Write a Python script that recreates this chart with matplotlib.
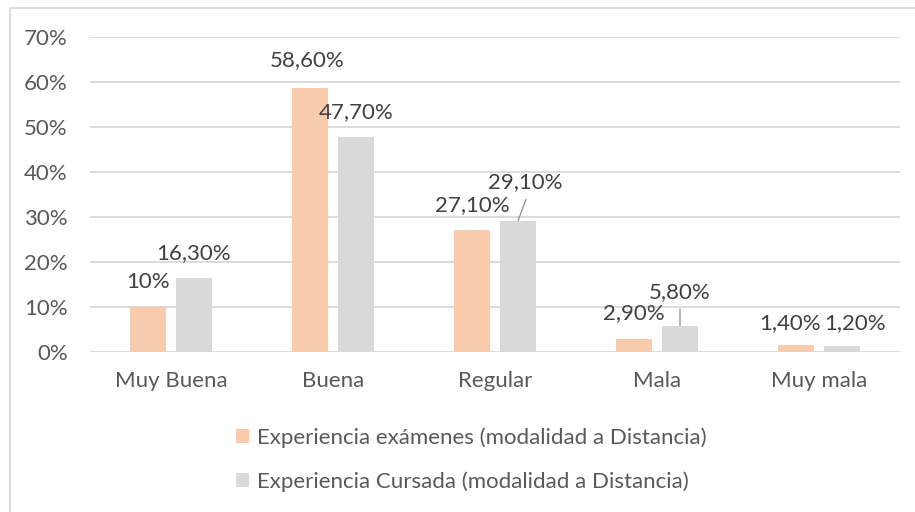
import matplotlib
matplotlib.use("Agg")
import matplotlib.pyplot as plt
from matplotlib.patches import Patch
from matplotlib.lines import Line2D
import numpy as np

plt.rcParams['font.family'] = ['Lato', 'DejaVu Sans']

categories = ["Muy Buena", "Buena", "Regular", "Mala", "Muy mala"]
examenes = [10.0, 58.6, 27.1, 2.9, 1.4]
cursada = [16.3, 47.7, 29.1, 5.8, 1.2]
label_examenes = ["10%", "58,60%", "27,10%", "2,90%", "1,40%"]
label_cursada = ["16,30%", "47,70%", "29,10%", "5,80%", "1,20%"]
series_names = ["Experiencia exámenes (modalidad a Distancia)",
                "Experiencia Cursada (modalidad a Distancia)"]
yticks = [0, 10, 20, 30, 40, 50, 60, 70]

C_EX = "#F8CBAD"
C_CU = "#D9D9D9"
GRID = "#D9D9D9"
TXT = "#595959"
LBL = "#404040"
FS = 16

W, H = 915, 512
fig = plt.figure(figsize=(W / 100, H / 100), dpi=100)
ax = fig.add_axes([90 / W, (H - 351.7) / H, 810 / W, 315 / H])

x = np.arange(len(categories))
off, bw = 0.142, 0.22
ax.bar(x - off, examenes, bw, color=C_EX, zorder=2)
ax.bar(x + off, cursada, bw, color=C_CU, zorder=2)

ax.set_xlim(-0.5, len(categories) - 0.5)
ax.set_ylim(0, 70)
ax.set_yticks(yticks)
ax.set_yticklabels([f"{t}%" for t in yticks])
ax.set_xticks(x)
ax.set_xticklabels(categories)
ax.grid(axis='y', color=GRID, lw=1.3, zorder=0)
ax.set_axisbelow(True)
for s in ax.spines.values():
    s.set_visible(False)
ax.tick_params(axis='both', length=0, labelsize=FS, labelcolor=TXT)
ax.tick_params(axis='y', pad=16)
ax.tick_params(axis='x', pad=14)

px = 72 / 100  # points per pixel
# label offsets in pixels (dx, dy up) relative to bar top centre
off_ex = [(0, 25), (-3, 28), (0, 25), (0, 25.7), (-5.5, 22.7)]
off_cu = [(0, 25), (0, 25), (7, 38.4), (0, 34), (13, 23.4)]
for i in range(len(categories)):
    for xs, vals, labs, offs in ((x - off, examenes, label_examenes, off_ex),
                                 (x + off, cursada, label_cursada, off_cu)):
        dx, dy = offs[i]
        ax.annotate(labs[i], (xs[i], vals[i]), xytext=(dx * px, dy * px),
                    textcoords='offset points', ha='center', va='center',
                    fontsize=FS, color=LBL, zorder=5)

# leader lines
ax.annotate('', (x[2] + off, cursada[2]), xytext=(8 * px, 21.4 * px),
            textcoords='offset points',
            arrowprops=dict(arrowstyle='-', color='#8C8C8C', lw=0.9, shrinkA=0, shrinkB=0))
ax.annotate('', (x[3] + off, cursada[3]), xytext=(0, 16.6 * px),
            textcoords='offset points',
            arrowprops=dict(arrowstyle='-', color='#8C8C8C', lw=0.9, shrinkA=0, shrinkB=0))

handles = [Patch(facecolor=C_EX, edgecolor='none'), Patch(facecolor=C_CU, edgecolor='none')]
leg = fig.legend(handles, series_names, loc='center',
                 bbox_to_anchor=(471.5 / W, 1 - 459.5 / H), frameon=False,
                 fontsize=FS, handlelength=0.58, handleheight=0.58,
                 handletextpad=0.36, labelspacing=1.08, borderpad=0)
for t in leg.get_texts():
    t.set_color(TXT)

# chart area border (left and top visible)
fig.add_artist(Line2D([9.5 / W, 9.5 / W, 1.0], [0, 1 - 7.5 / H, 1 - 7.5 / H],
                      transform=fig.transFigure, color=GRID, lw=1.3))

fig.savefig("out.png", dpi=100)
